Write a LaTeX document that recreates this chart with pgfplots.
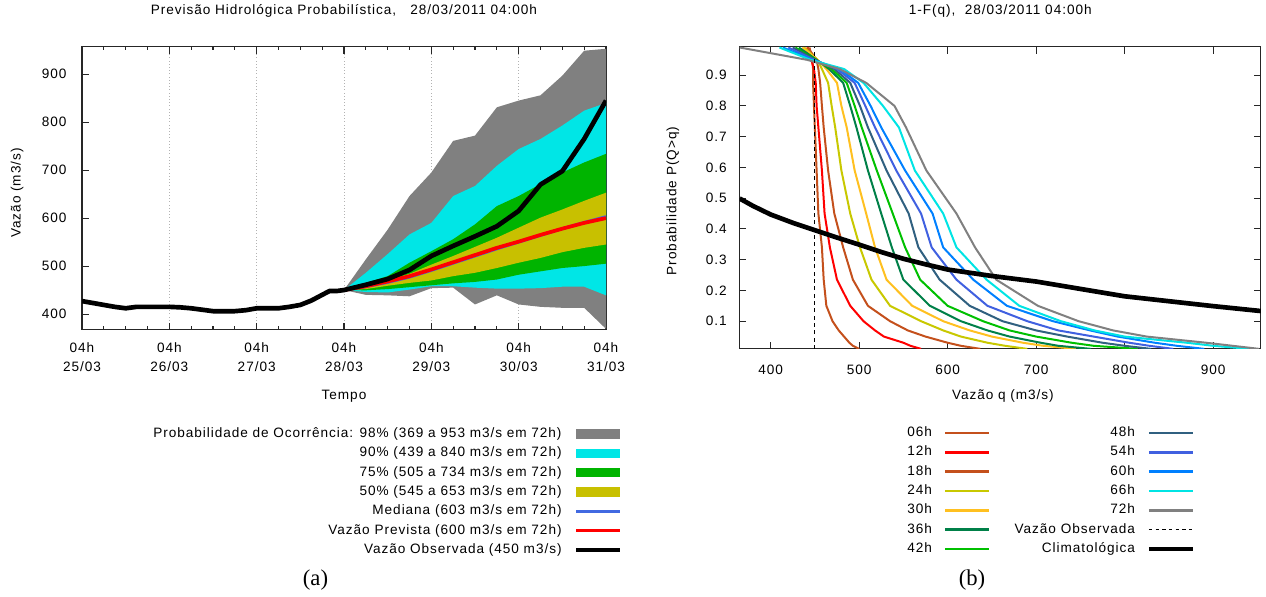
\documentclass[border=0pt]{standalone}
\usepackage{fontspec}
\usepackage{pgfplots}
\usepackage{pgfplotstable}
\pgfplotsset{compat=1.18}
\usepgfplotslibrary{fillbetween}
\setmainfont{Liberation Sans}[LetterSpace=7]
\newfontfamily\tmfont{Liberation Serif}
\newcommand\gpf{\fontsize{10.2}{14.25}\selectfont}
\definecolor{bandgray}{HTML}{808080}
\definecolor{bandcyan}{HTML}{00E6E6}
\definecolor{bandgreen}{HTML}{00B400}
\definecolor{bandyellow}{HTML}{C8C000}
\definecolor{medblue}{HTML}{4169E1}
\definecolor{c06}{HTML}{C4501C}
\definecolor{c12}{HTML}{FF0000}
\definecolor{c18}{HTML}{C4501C}
\definecolor{c24}{HTML}{C8C800}
\definecolor{c30}{HTML}{FFC020}
\definecolor{c36}{HTML}{008048}
\definecolor{c42}{HTML}{00C000}
\definecolor{c48}{HTML}{306080}
\definecolor{c54}{HTML}{4060E0}
\definecolor{c60}{HTML}{0080FF}
\definecolor{c66}{HTML}{00E4E4}
\definecolor{c72}{HTML}{808080}

\pgfplotsset{
  gp/.style={
    scale only axis,
    axis line style={black!85, line width=0.8pt},
    tick style={black!85, line width=0.8pt},
    tick align=inside,
    xtick pos=both, ytick pos=both,
    major tick length=5pt,
    minor tick length=2.7pt,
    tick label style={font=\gpf, text=black},
    label style={font=\gpf, text=black},
    title style={font=\gpf, text=black},
    /pgf/number format/assume math mode=true,
    legend cell align=right,
    legend plot pos=right,
    legend style={draw=none, fill=none, font=\gpf, inner sep=0pt, outer sep=0pt,
      row sep=5.5pt, nodes={inner sep=0pt, text height=7.3pt, text depth=1.7pt}},
  },
  lineleg/.style={legend image code/.code={\draw[##1] (0pt,0pt) -- (33pt,0pt);}},
  barleg/.style={legend image code/.code={\fill[##1, draw=none] (0pt,-3.5pt) rectangle (33pt,3.5pt);}},
}

\pgfplotstableread{
h v
0 427
3 423
6 419
9 415
12 412
15 415
18 415
21 415
24 415
27 414
30 412
33 409
36 406
39 406
42 406
45 408
48 412
51 412
54 412
57 415
60 419
63 428
66 440
68 448
70 448
72 450
78 461
84 473
90 492
96 521
102 542
108 562
114 583
120 615
126 670
132 698
138 765
144 845
}\obs

\pgfplotstableread{
h g98l c90l g75l y50l y50u g75u c90u g98u
72 450 450 450 450 450 450 450 450
78 440 446 449.5 452 459 465 486 514
84 439 445 452 459 470 479 525 576
90 437 451 456 465 484 507 566 646
96 454 458 460 470 503 531 590 695
102 455 458 464 479 521 556 646 761
108 420 455 467 486 540 587 667 772
114 439 453 472 496 559 625 709 831
120 420 453 482 507 580 646 744 845
126 415 454 489 517 601 671 765 856
132 413 457 496 529 618 695 793 897
138 413 457 500 538 636 716 824 949
144 369 439 505 545 653 734 840 953
}\bands

\pgfplotstableread{
h red med
72 450 450
78 458 457
84 468 466
90 479 477
96 493 491
102 508 506
108 523 521
114 538 536
120 551 550
126 565 564
132 578 578
138 590 591
144 600 603
}\fc

\pgfplotstableread{
p h06 h12 h18 h24 h30 h36 h42 h48 h54 h60 h66 h72
0.99  444 441 442 438 436 432 428 425 420 414 410 365
0.95  447 446 452 453 453 452 451 450 449 447 445 441
0.92  448 449 454 458 463 466 469 472 475 478 483 478
0.875 448 451 456 465 475 482 486 490 495 499 505 508
0.80  449 452 458 469 480 490 495 501 507 513 527 540
0.73  450 454 460 473 486 497 503 510 518 525 545 553
0.59  452 458 465 480 495 510 520 531 542 552 563 576
0.45  454 461 472 490 508 525 538 556 570 583 595 610
0.34  458 467 482 501 518 537 552 567 582 595 610 631
0.235 460 475 493 514 531 550 569 591 610 629 644 655
0.15  463 490 510 535 560 580 600 625 645 667 681 702
0.10  470 505 535 570 595 615 640 662 690 719 728 748
0.07  477 518 555 595 625 645 670 700 725 761 766 787
0.05  483 528 575 615 650 670 700 735 765 792 800 825
0.03  489 550 600 645 685 705 740 775 805 834 870 892
0.02  493 558 615 665 708 725 765 800 828 859 900 922
0.01  500 570 637 690 745 762 815 830 855 890 941 952
}\fq

\pgfplotstableread{
q p
365 0.499
380 0.475
400 0.447
425 0.420
450 0.396
475 0.372
500 0.349
525 0.325
550 0.303
575 0.285
600 0.268
650 0.247
700 0.229
750 0.205
800 0.181
850 0.165
900 0.149
954 0.133
}\clim

\begin{document}
\begin{tikzpicture}
\path (0pt,0pt) rectangle (949.5pt,-445.5pt);

% ---------------- left chart ----------------
\begin{axis}[gp,
  at={(61.5pt,-245.25pt)}, anchor=south west,
  width=393pt, height=212.25pt,
  xmin=0, xmax=144, ymin=367, ymax=957,
  xtick={0,24,48,72,96,120,144},
  xticklabels={{04h\\25/03},{04h\\26/03},{04h\\27/03},{04h\\28/03},{04h\\29/03},{04h\\30/03},{04h\\31/03}},
  xticklabel style={align=center, inner sep=0pt, yshift=-9.5pt},
  minor x tick num=3,
  ytick={400,500,600,700,800,900},
  yticklabel style={inner sep=0pt, xshift=-11.5pt},
  xmajorgrids, major grid style={dotted, black!30, line width=0.6pt},
  title={Previsão Hidrológica Probabilística,\ \ \ 28/03/2011 04:00h},
  title style={at={(axis description cs:0.5,1.099)}, anchor=center},
  xlabel={Tempo},
  xlabel style={at={(axis description cs:0.5,-0.233)}, anchor=center},
  ylabel={Vazão (m3/s)},
  ylabel style={at={(axis description cs:-0.124,0.484)}, anchor=center},
  legend style={at={(axis description cs:1.0305,-0.3463)}, anchor=north east,
    /tikz/every odd column/.append style={column sep=9.5pt}},
]
\addplot[name path=g98u, draw=none, forget plot] table[x=h, y=g98u] {\bands};
\addplot[name path=g98l, draw=none, forget plot] table[x=h, y=g98l] {\bands};
\addplot[name path=c90u, draw=none, forget plot] table[x=h, y=c90u] {\bands};
\addplot[name path=c90l, draw=none, forget plot] table[x=h, y=c90l] {\bands};
\addplot[name path=g75u, draw=none, forget plot] table[x=h, y=g75u] {\bands};
\addplot[name path=g75l, draw=none, forget plot] table[x=h, y=g75l] {\bands};
\addplot[name path=y50u, draw=none, forget plot] table[x=h, y=y50u] {\bands};
\addplot[name path=y50l, draw=none, forget plot] table[x=h, y=y50l] {\bands};
\addplot[fill=bandgray, draw=none, forget plot] fill between[of=g98u and g98l];
\addplot[fill=bandcyan, draw=none, forget plot] fill between[of=c90u and c90l];
\addplot[fill=bandgreen, draw=none, forget plot] fill between[of=g75u and g75l];
\addplot[fill=bandyellow, draw=none, forget plot] fill between[of=y50u and y50l];
\addplot[medblue, line width=2.2pt, forget plot] table[x=h, y=med] {\fc};
\addplot[red, line width=2.8pt, line join=round, forget plot] table[x=h, y=red] {\fc};
\addplot[black, line width=3.5pt, line join=round, forget plot] table[x=h, y=v] {\obs};

\addlegendimage{barleg, fill=bandgray}
\addlegendentry{Probabilidade de Ocorrência: 98\% (369 a 953 m3/s em 72h)}
\addlegendimage{barleg, fill=bandcyan}
\addlegendentry{90\% (439 a 840 m3/s em 72h)}
\addlegendimage{barleg, fill=bandgreen}
\addlegendentry{75\% (505 a 734 m3/s em 72h)}
\addlegendimage{barleg, fill=bandyellow}
\addlegendentry{50\% (545 a 653 m3/s em 72h)}
\addlegendimage{lineleg, medblue, line width=2.5pt}
\addlegendentry{Mediana (603 m3/s em 72h)}
\addlegendimage{lineleg, red, line width=2.5pt}
\addlegendentry{Vazão Prevista (600 m3/s em 72h)}
\addlegendimage{lineleg, black, line width=2.8pt}
\addlegendentry{Vazão Observada (450 m3/s)}
\end{axis}

% ---------------- right chart ----------------
\begin{axis}[gp,
  at={(554.7pt,-259.5pt)}, anchor=south west,
  width=391pt, height=226.5pt,
  xmin=365, xmax=954, ymin=0.01, ymax=0.992,
  xtick={400,500,600,700,800,900},
  ytick={0.1,0.2,0.3,0.4,0.5,0.6,0.7,0.8,0.9},
  xticklabel style={inner sep=0pt, yshift=-12pt},
  yticklabel style={inner sep=0pt, xshift=-9.5pt},
  title={1-F(q),\ \ 28/03/2011 04:00h},
  title style={at={(axis description cs:0.5,1.093)}, anchor=center},
  xlabel={Vazão q (m3/s)},
  xlabel style={at={(axis description cs:0.505,-0.156)}, anchor=center},
  ylabel={Probabilidade P(Q>q)},
  ylabel style={at={(axis description cs:-0.128,0.49)}, anchor=center},
  legend columns=2,
  legend style={at={(axis description cs:0.8734,-0.2583)}, anchor=north east,
    /tikz/every odd column/.append style={column sep=9pt},
    /tikz/every even column/.append style={column sep=18pt}},
]
\addplot[c06, line width=1.5pt, line join=round, forget plot] table[x=h06, y=p] {\fq};
\addplot[c12, line width=1.5pt, line join=round, forget plot] table[x=h12, y=p] {\fq};
\addplot[c18, line width=1.5pt, line join=round, forget plot] table[x=h18, y=p] {\fq};
\addplot[c24, line width=1.5pt, line join=round, forget plot] table[x=h24, y=p] {\fq};
\addplot[c30, line width=1.5pt, line join=round, forget plot] table[x=h30, y=p] {\fq};
\addplot[c36, line width=1.5pt, line join=round, forget plot] table[x=h36, y=p] {\fq};
\addplot[c42, line width=1.5pt, line join=round, forget plot] table[x=h42, y=p] {\fq};
\addplot[c48, line width=1.5pt, line join=round, forget plot] table[x=h48, y=p] {\fq};
\addplot[c54, line width=1.5pt, line join=round, forget plot] table[x=h54, y=p] {\fq};
\addplot[c60, line width=1.5pt, line join=round, forget plot] table[x=h60, y=p] {\fq};
\addplot[c66, line width=1.5pt, line join=round, forget plot] table[x=h66, y=p] {\fq};
\addplot[c72, line width=1.5pt, line join=round, forget plot] table[x=h72, y=p] {\fq};
\addplot[black, line width=0.8pt, dash pattern=on 3pt off 2.5pt, forget plot] coordinates {(450,0.01) (450,0.992)};
\addplot[black, line width=3.5pt, line join=round, forget plot] table[x=q, y=p] {\clim};

\addlegendimage{lineleg, c06, line width=2pt}\addlegendentry{06h}
\addlegendimage{lineleg, c48, line width=2pt}\addlegendentry{48h}
\addlegendimage{lineleg, c12, line width=2pt}\addlegendentry{12h}
\addlegendimage{lineleg, c54, line width=2pt}\addlegendentry{54h}
\addlegendimage{lineleg, c18, line width=2pt}\addlegendentry{18h}
\addlegendimage{lineleg, c60, line width=2pt}\addlegendentry{60h}
\addlegendimage{lineleg, c24, line width=2pt}\addlegendentry{24h}
\addlegendimage{lineleg, c66, line width=2pt}\addlegendentry{66h}
\addlegendimage{lineleg, c30, line width=2pt}\addlegendentry{30h}
\addlegendimage{lineleg, c72, line width=2pt}\addlegendentry{72h}
\addlegendimage{lineleg, c36, line width=2pt}\addlegendentry{36h}
\addlegendimage{lineleg, black, line width=0.8pt, dash pattern=on 2.5pt off 2.5pt}\addlegendentry{Vazão Observada}
\addlegendimage{lineleg, c42, line width=2pt}\addlegendentry{42h}
\addlegendimage{lineleg, black, line width=3pt}\addlegendentry{Climatológica}
\end{axis}

\node[font=\tmfont\fontsize{17}{20}\selectfont, inner sep=0pt] at (236.6pt,-432.75pt) {(a)};
\node[font=\tmfont\fontsize{17}{20}\selectfont, inner sep=0pt] at (729pt,-432.75pt) {(b)};
\end{tikzpicture}
\end{document}
